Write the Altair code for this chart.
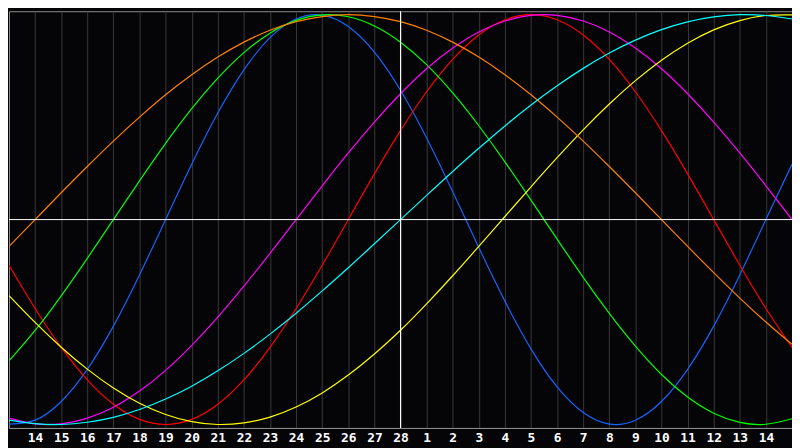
import altair as alt
import pandas as pd

# day offsets relative to the 28th (white vertical line)
days = list(range(-15, 16))
tick_values = list(range(-14, 15))
tick_labels = ["14", "15", "16", "17", "18", "19", "20", "21", "22", "23", "24", "25", "26", "27", "28",
               "1", "2", "3", "4", "5", "6", "7", "8", "9", "10", "11", "12", "13", "14"]

physical = [-0.998, -0.979, -0.888, -0.731, -0.520, -0.270, 0.000, 0.270, 0.520, 0.731, 0.888, 0.979,
            0.998, 0.942, 0.817, 0.631, 0.398, 0.136, -0.136, -0.398, -0.631, -0.817, -0.942, -0.998,
            -0.979, -0.888, -0.731, -0.520, -0.270, 0.000, 0.270]
emotional = [-0.223, -0.434, -0.624, -0.782, -0.901, -0.975, -1.000, -0.975, -0.901, -0.782, -0.624,
             -0.434, -0.223, 0.000, 0.223, 0.434, 0.624, 0.782, 0.901, 0.975, 1.000, 0.975, 0.901,
             0.782, 0.624, 0.434, 0.223, 0.000, -0.223, -0.434, -0.624]
intellectual = [-0.690, -0.541, -0.372, -0.189, 0.000, 0.189, 0.372, 0.541, 0.690, 0.815, 0.910, 0.972,
                0.999, 0.990, 0.945, 0.866, 0.756, 0.618, 0.458, 0.282, 0.095, -0.095, -0.282, -0.458,
                -0.618, -0.756, -0.866, -0.945, -0.990, -0.999, -0.972]
intuitive = [-0.969, -0.997, -0.997, -0.969, -0.916, -0.837, -0.736, -0.614, -0.476, -0.325, -0.165,
             0.000, 0.165, 0.325, 0.476, 0.614, 0.736, 0.837, 0.916, 0.969, 0.997, 0.997, 0.969,
             0.916, 0.837, 0.736, 0.614, 0.476, 0.325, 0.165, 0.000]
aesthetic = [-0.371, -0.502, -0.623, -0.730, -0.822, -0.896, -0.951, -0.986, -1.000, -0.992, -0.964,
             -0.915, -0.846, -0.759, -0.656, -0.540, -0.411, -0.274, -0.131, 0.015, 0.160, 0.302,
             0.438, 0.564, 0.678, 0.778, 0.861, 0.926, 0.971, 0.996, 0.999]
awareness = [-0.131, 0.000, 0.131, 0.259, 0.383, 0.500, 0.609, 0.707, 0.793, 0.866, 0.924, 0.966,
             0.991, 1.000, 0.991, 0.966, 0.924, 0.866, 0.793, 0.707, 0.609, 0.500, 0.383, 0.259,
             0.131, 0.000, -0.131, -0.259, -0.383, -0.500, -0.609]
spiritual = [-0.979, -0.996, -1.000, -0.989, -0.965, -0.927, -0.876, -0.813, -0.738, -0.653, -0.559,
             -0.457, -0.348, -0.235, -0.118, 0.000, 0.118, 0.235, 0.348, 0.457, 0.559, 0.653, 0.738,
             0.813, 0.876, 0.927, 0.965, 0.989, 1.000, 0.996, 0.979]

series_names = ["physical", "emotional", "intellectual", "intuitive", "aesthetic", "awareness", "spiritual"]
series_values = [physical, emotional, intellectual, intuitive, aesthetic, awareness, spiritual]
series_colors = ["#1464ff", "#ff0000", "#00ff00", "#ff00ff", "#ffff00", "#ff8000", "#00ffff"]

rows = []
for name, vals in zip(series_names, series_values):
    for d, v in zip(days, vals):
        rows.append({"t": d, "v": v, "s": name})
df = pd.DataFrame(rows)

label_expr = "[" + ",".join("'%s'" % s for s in tick_labels) + "][datum.value + 14]"

xscale = alt.Scale(domain=[-15, 15], nice=False, zero=False)
yscale = alt.Scale(domain=[-1.017, 1.017], nice=False, zero=False)

xaxis = alt.Axis(values=tick_values, labelExpr=label_expr, grid=True, gridColor="#3a3a3a",
                 gridWidth=1, domainColor="#8c8c8c", domainWidth=1, ticks=False,
                 labelColor="#ffffff", labelFont="DejaVu Sans Mono", labelFontWeight="bold",
                 labelFontSize=13, labelPadding=4, labelFlush=False, labelOverlap=False, title=None)

lines = alt.Chart(df).mark_line(strokeWidth=1.2, interpolate="natural", clip=True).encode(
    x=alt.X("t:Q", scale=xscale, axis=xaxis),
    y=alt.Y("v:Q", scale=yscale, axis=None),
    color=alt.Color("s:N", scale=alt.Scale(domain=series_names, range=series_colors), legend=None),
    detail="s:N",
)

hrule = alt.Chart(pd.DataFrame({"v": [0]})).mark_rule(color="#ffffff", strokeWidth=1).encode(
    y=alt.Y("v:Q", scale=yscale, axis=None))
vrule = alt.Chart(pd.DataFrame({"t": [0]})).mark_rule(color="#ffffff", strokeWidth=1).encode(
    x=alt.X("t:Q", scale=xscale, axis=xaxis))

chart = alt.layer(lines, hrule, vrule).properties(
    width=791, height=421,
    background="#050508",
    padding={"left": 1, "top": 1, "right": 0, "bottom": 18},
    autosize=alt.AutoSizeParams(type="none"),
).configure_view(stroke="#8c8c8c", strokeWidth=1, fill="#050508")

chart.save("out.html", embed_options={"renderer": "svg", "actions": False})
